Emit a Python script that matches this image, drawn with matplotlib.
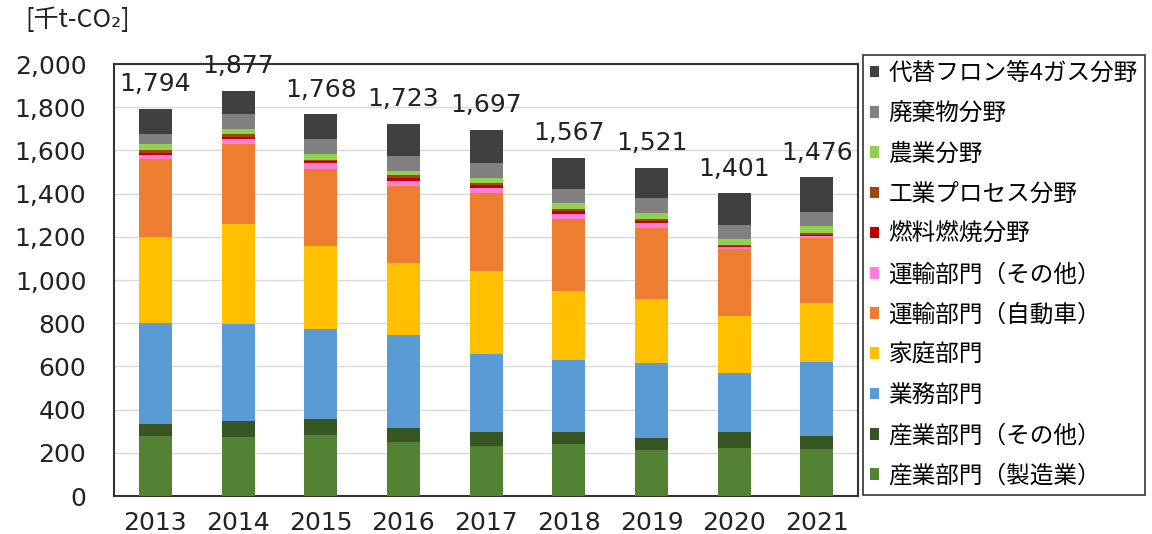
import matplotlib as mpl
mpl.use("Agg")
import matplotlib.pyplot as plt
import numpy as np

plt.rcParams["font.family"] = ["Noto Sans CJK JP", "DejaVu Sans"]

years = ["2013", "2014", "2015", "2016", "2017", "2018", "2019", "2020", "2021"]

# stacked from bottom to top (thousand t-CO2)
manufacturing = [278, 275, 285, 251, 231, 239, 213, 221, 216]
industry_other = [58, 74, 71, 65, 67, 56, 57, 74, 63]
business = [463, 446, 416, 428, 362, 335, 347, 276, 343]
household = [401, 463, 388, 333, 382, 320, 295, 262, 274]
transport_car = [359, 370, 354, 360, 359, 334, 330, 310, 297]
transport_other = [19, 25, 29, 23, 26, 24, 23, 11, 12]
fuel_combustion = [12, 10, 7, 13, 11, 10, 10, 4, 5]
industrial_process = [14, 13, 8, 13, 12, 11, 10, 4, 6]
agriculture = [28, 23, 24, 20, 24, 26, 27, 28, 35]
waste = [44, 68, 71, 68, 66, 68, 67, 64, 65]
hfc_4gas = [118, 110, 115, 149, 157, 144, 142, 147, 160]

series = [
    ("産業部門（製造業）", manufacturing, "#548235"),
    ("産業部門（その他）", industry_other, "#375623"),
    ("業務部門", business, "#5B9BD5"),
    ("家庭部門", household, "#FFC000"),
    ("運輸部門（自動車）", transport_car, "#ED7D31"),
    ("運輸部門（その他）", transport_other, "#FF7FD8"),
    ("燃料燃焼分野", fuel_combustion, "#C00000"),
    ("工業プロセス分野", industrial_process, "#9E480E"),
    ("農業分野", agriculture, "#92D050"),
    ("廃棄物分野", waste, "#808080"),
    ("代替フロン等4ガス分野", hfc_4gas, "#404040"),
]

fig = plt.figure(figsize=(11.52, 5.34), dpi=100)
ax = fig.add_axes([0.099, 0.071, 0.646, 0.809])

x = np.arange(len(years))
bottom = np.zeros(len(years))
handles = []
for name, vals, col in series:
    b = ax.bar(x, vals, 0.40, bottom=bottom, color=col, label=name, zorder=3)
    handles.append(b)
    bottom += np.array(vals)

for xi, tot in zip(x, bottom):
    ax.annotate(f"{int(tot):,}", (xi, tot), xytext=(0, 9), textcoords="offset points",
                ha="center", va="bottom", fontsize=18, color="#222222",
                family=["DejaVu Sans"], annotation_clip=False, zorder=6)

ax.set_xlim(-0.5, len(years) - 0.5)
ax.set_ylim(0, 2000)
ax.set_yticks(range(0, 2001, 200))
ax.set_yticklabels([f"{v:,}" for v in range(0, 2001, 200)], family=["DejaVu Sans"])
ax.set_xticks(x)
ax.set_xticklabels(years, family=["DejaVu Sans"])
ax.tick_params(axis="both", length=0, labelsize=18, labelcolor="#222222")
ax.tick_params(axis="y", pad=20)
ax.tick_params(axis="x", pad=11)
ax.grid(axis="y", color="#D9D9D9", lw=1.0, zorder=0)
for s in ax.spines.values():
    s.set_color("#333333")
    s.set_linewidth(1.5)

fig.text(0.022, 0.962, "[千t-CO₂]", fontsize=18, color="#222222", va="center", ha="left")

leg = fig.legend(handles[::-1], [s[0] for s in series][::-1], loc="upper left",
                 bbox_to_anchor=(0.749, 0.897), frameon=True, fancybox=False,
                 fontsize=17, handlelength=0.38, handleheight=0.38, handletextpad=0.4,
                 labelspacing=0.73, borderpad=0.3, borderaxespad=0)
leg.get_frame().set_edgecolor("black")
leg.get_frame().set_linewidth(1.2)

fig.savefig("out.png", dpi=100)
plt.close(fig)
